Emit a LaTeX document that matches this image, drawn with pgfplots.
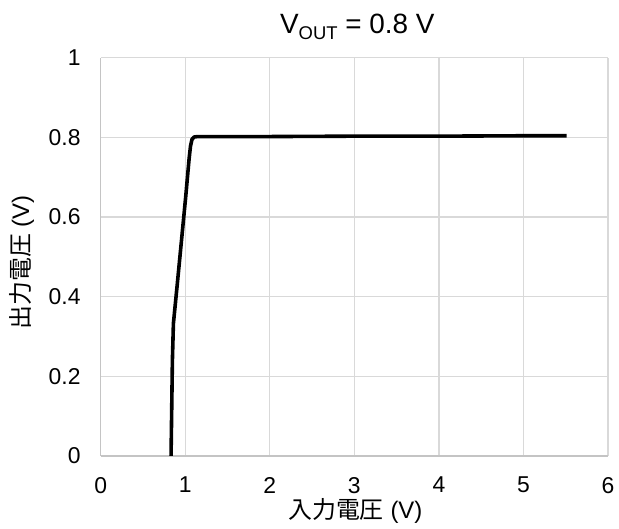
\documentclass[border=0pt]{standalone}
\usepackage{fontspec}
\setmainfont{Liberation Sans}
\newfontfamily\cjk{Noto Sans CJK JP}
\usepackage{pgfplots}
\pgfplotsset{compat=1.18}
\definecolor{gridgray}{HTML}{D9D9D9}
\definecolor{axisgray}{HTML}{C4C4C4}

\begin{document}
\begin{tikzpicture}
\path[use as bounding box] (0,0) rectangle (619bp,529bp);
\begin{axis}[
  at={(100.7bp,73bp)}, anchor=south west,
  width=507.3bp, height=398.3bp, scale only axis,
  xmin=0, xmax=6, ymin=0, ymax=1,
  xtick={0,1,2,3,4,5,6}, xticklabels={0,1,2,3,4,5,6},
  ytick={0,0.2,0.4,0.6,0.8,1}, yticklabels={0,0.2,0.4,0.6,0.8,1},
  grid=major, major grid style={gridgray, line width=1.3bp},
  axis lines*=left, axis line style={axisgray, line width=1.3bp, -},
  major tick length=0pt,
  tick label style={font=\fontsize{23}{23}\selectfont, black, inner sep=0pt},
  xticklabel style={anchor=north, yshift=-21bp},
  yticklabel style={anchor=east, xshift=-20bp},
  clip=true,
]
\addplot[black, line width=3.6bp, line join=round] coordinates {
  (0.832,0) (0.840,0.12) (0.848,0.24) (0.860,0.333)
  (0.905,0.43) (0.955,0.54) (1.005,0.65) (1.045,0.745)
  (1.062,0.778) (1.080,0.795) (1.105,0.801) (1.15,0.802)
  (1.5,0.802) (2,0.802) (3,0.803) (4,0.803) (5,0.804) (5.51,0.804)
};
\end{axis}
% title and axis titles
\node[anchor=base, inner sep=0pt] at (357.3bp,495.7bp)
  {\fontsize{28}{28}\selectfont V\raisebox{-6.7bp}{\fontsize{18.5}{18.5}\selectfont OUT} = 0.8 V};
\node[inner sep=0pt] at (355.3bp,18bp)
  {\fontsize{24}{24}\selectfont{\cjk 入力電圧} (V)};
\node[inner sep=0pt, rotate=90] at (21.5bp,266.5bp)
  {\fontsize{24}{24}\selectfont{\cjk 出力電圧} (V)};
\end{tikzpicture}
\end{document}
